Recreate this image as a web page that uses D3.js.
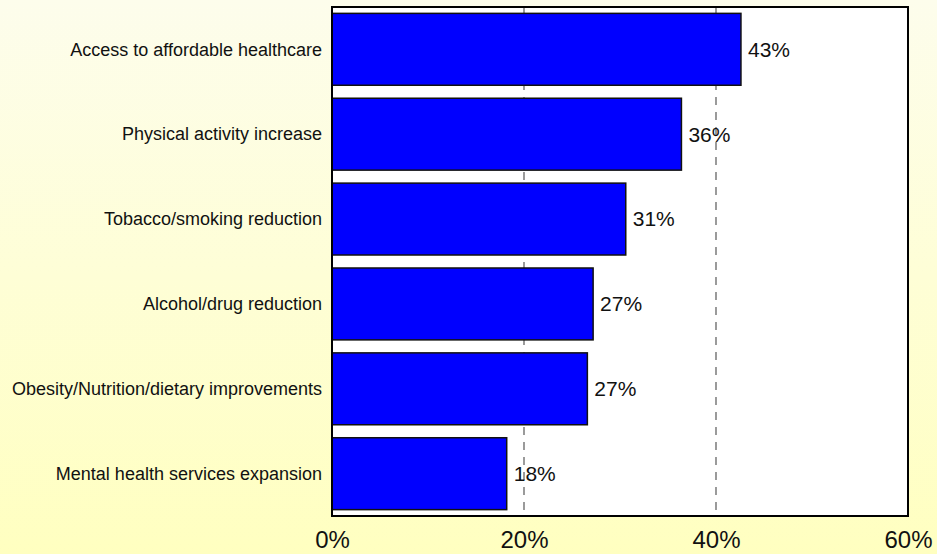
<!DOCTYPE html>
<html>
<head>
<meta charset="utf-8">
<script src="https://cdn.jsdelivr.net/npm/d3@7/dist/d3.min.js"></script>
<style>
  html, body { margin: 0; padding: 0; }
  svg { display: block; font-family: "Liberation Sans", Arial, sans-serif; }
</style>
</head>
<body>
<svg id="chart" width="937" height="554"></svg>
<script>
// Share of respondents naming each health priority (%)
const categories = [
  "Access to affordable healthcare",
  "Physical activity increase",
  "Tobacco/smoking reduction",
  "Alcohol/drug reduction",
  "Obesity/Nutrition/dietary improvements",
  "Mental health services expansion"
];
const values = [42.6, 36.4, 30.6, 27.2, 26.6, 18.2];
const xTicks = [0, 20, 40, 60];
const gridTicks = [20, 40];

const W = 937, H = 554;
const plot = { left: 332, right: 908, top: 7, bottom: 516 };

const svg = d3.select("#chart");

// Page background: pale-to-deeper yellow vertical gradient
const defs = svg.append("defs");
const grad = defs.append("linearGradient")
  .attr("id", "bg").attr("x1", 0).attr("y1", 0).attr("x2", 0).attr("y2", 1);
grad.append("stop").attr("offset", "0%").attr("stop-color", "#FDFDEC");
grad.append("stop").attr("offset", "100%").attr("stop-color", "#FFFFC0");
svg.append("rect").attr("width", W).attr("height", H).attr("fill", "url(#bg)");

const x = d3.scaleLinear().domain([0, 60]).range([plot.left, plot.right]);
const y = d3.scaleBand().domain(categories)
  .range([plot.top, plot.bottom])
  .paddingInner(0.153).paddingOuter(0.075);

// Plot area
svg.append("rect")
  .attr("x", plot.left).attr("y", plot.top)
  .attr("width", plot.right - plot.left).attr("height", plot.bottom - plot.top)
  .attr("fill", "#fff");

// Dashed vertical gridlines
svg.append("g").selectAll("line").data(gridTicks).join("line")
  .attr("x1", d => x(d)).attr("x2", d => x(d))
  .attr("y1", plot.top).attr("y2", plot.bottom)
  .attr("stroke", "#666").attr("stroke-width", 1.3)
  .attr("stroke-dasharray", "8,7");

// Bars
svg.append("g").selectAll("rect").data(values).join("rect")
  .attr("x", x(0))
  .attr("y", (d, i) => y(categories[i]))
  .attr("width", d => x(d) - x(0))
  .attr("height", y.bandwidth())
  .attr("fill", "#0000FF")
  .attr("stroke", "#111").attr("stroke-width", 1.5);

// Value labels
svg.append("g").selectAll("text").data(values).join("text")
  .attr("x", d => x(d) + 7)
  .attr("y", (d, i) => y(categories[i]) + y.bandwidth() / 2)
  .attr("dy", "0.35em")
  .attr("font-size", 21)
  .attr("fill", "#111")
  .text(d => Math.round(d) + "%");

// Category labels
svg.append("g").selectAll("text").data(categories).join("text")
  .attr("x", 322)
  .attr("y", d => y(d) + y.bandwidth() / 2)
  .attr("dy", "0.35em")
  .attr("text-anchor", "end")
  .attr("font-size", 18)
  .attr("fill", "#111")
  .text(d => d);

// Plot frame
svg.append("rect")
  .attr("x", plot.left).attr("y", plot.top)
  .attr("width", plot.right - plot.left).attr("height", plot.bottom - plot.top)
  .attr("fill", "none").attr("stroke", "#000").attr("stroke-width", 2);

// X axis tick labels
const axis = svg.append("g")
  .attr("transform", `translate(0,${plot.bottom})`)
  .call(d3.axisBottom(x).tickValues(xTicks).tickSize(0).tickPadding(0)
    .tickFormat(d => d + "%"));
axis.select(".domain").remove();
axis.selectAll("text")
  .attr("font-family", "Liberation Sans, Arial, sans-serif")
  .attr("font-size", 24)
  .attr("fill", "#111")
  .attr("dy", null)
  .attr("y", 32);
</script>
</body>
</html>
